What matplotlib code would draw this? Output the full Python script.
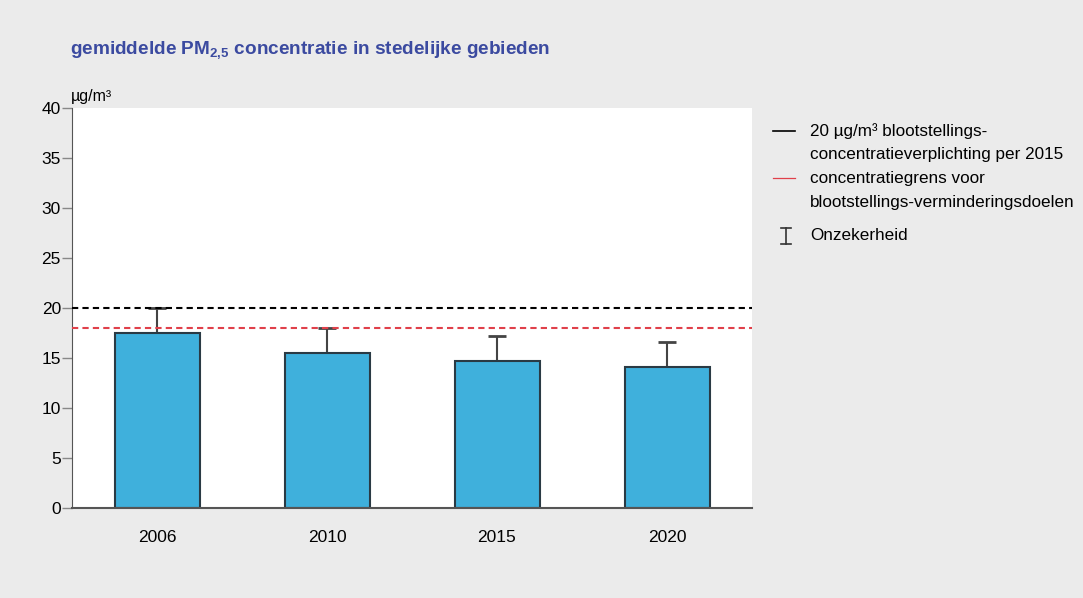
import matplotlib
matplotlib.use("Agg")
import matplotlib.pyplot as plt
from matplotlib.lines import Line2D

plt.rcParams['font.family'] = ['Liberation Sans', 'DejaVu Sans']
plt.rcParams['mathtext.fontset'] = 'custom'
plt.rcParams['mathtext.rm'] = 'Liberation Sans'
plt.rcParams['mathtext.bf'] = 'Liberation Sans:bold'

years = ['2006', '2010', '2015', '2020']
values = [17.5, 15.5, 14.7, 14.1]
upper_err = [2.5, 2.5, 2.5, 2.5]
obligation = 20
limit = 18
yticks = [0, 5, 10, 15, 20, 25, 30, 35, 40]

bg = '#ebebeb'
fig = plt.figure(figsize=(10.83, 5.98), dpi=100, facecolor=bg)
ax = fig.add_axes([72/1083, 1-508/598, 680/1083, 400/598])
ax.set_facecolor('white')

x = list(range(len(years)))
ax.bar(x, values, width=0.5, color='#3fb0dc', edgecolor='#2a3a44', linewidth=1.5, zorder=2)
ax.errorbar(x, values, yerr=[[0]*len(values), upper_err], fmt='none',
            ecolor='#444444', elinewidth=1.5, capsize=6.5, capthick=2, zorder=1)
ax.axhline(obligation, color='black', linestyle=(0, (3, 2)), linewidth=1.5, zorder=3)
ax.axhline(limit, color='#e0404a', linestyle=(0, (3, 2)), linewidth=1.5, zorder=3)

ax.set_xlim(-0.5, 3.5)
ax.set_ylim(0, 40)
ax.set_xticks(x)
ax.set_xticklabels(years, fontsize=12.5)
ax.set_yticks(yticks)
ax.set_yticklabels([str(v) for v in yticks], fontsize=12.5)
ax.tick_params(axis='x', length=0, pad=16)
ax.tick_params(axis='y', length=7, color='#888888', width=1, pad=1)
for s in ['top', 'right']:
    ax.spines[s].set_visible(False)
ax.spines['left'].set_color('#555555')
ax.spines['bottom'].set_color('#555555')
ax.spines['bottom'].set_linewidth(1.5)

fig.text(70/1083, 1-55/598, r'gemiddelde PM$_{\mathbf{2{,}5}}$ concentratie in stedelijke gebieden',
         color='#3b4aa0', fontsize=13.7, fontweight='bold', va='baseline')
fig.text(71/1083, 1-97/598, 'µg/m³', fontsize=11.5, va='center', ha='left')

# legend
lx0, lx1, tx = 773/1083, 795/1083, 810/1083
def fy(p):
    return 1 - p/598
fs = 12.3
fig.add_artist(Line2D([lx0, lx1], [fy(131), fy(131)], color='black', linewidth=1.2))
fig.add_artist(Line2D([lx0, lx1], [fy(178), fy(178)], color='#e0404a', linewidth=0.9))
fig.text(tx, fy(131), '20 µg/m³ blootstellings-', fontsize=fs, va='center')
fig.text(tx, fy(155), 'concentratieverplichting per 2015', fontsize=fs, va='center')
fig.text(tx, fy(178), 'concentratiegrens voor', fontsize=fs, va='center')
fig.text(tx, fy(202), 'blootstellings-verminderingsdoelen', fontsize=fs, va='center')
fig.text(tx, fy(235), 'Onzekerheid', fontsize=fs, va='center')
cx = 786/1083
fig.add_artist(Line2D([cx, cx], [fy(228), fy(244)], color='#333333', linewidth=1.2))
fig.add_artist(Line2D([cx-5/1083, cx+5/1083], [fy(228), fy(228)], color='#333333', linewidth=1.2))
fig.add_artist(Line2D([cx-5/1083, cx+5/1083], [fy(244), fy(244)], color='#333333', linewidth=1.2))

fig.savefig('out.png', dpi=100, facecolor=bg)
